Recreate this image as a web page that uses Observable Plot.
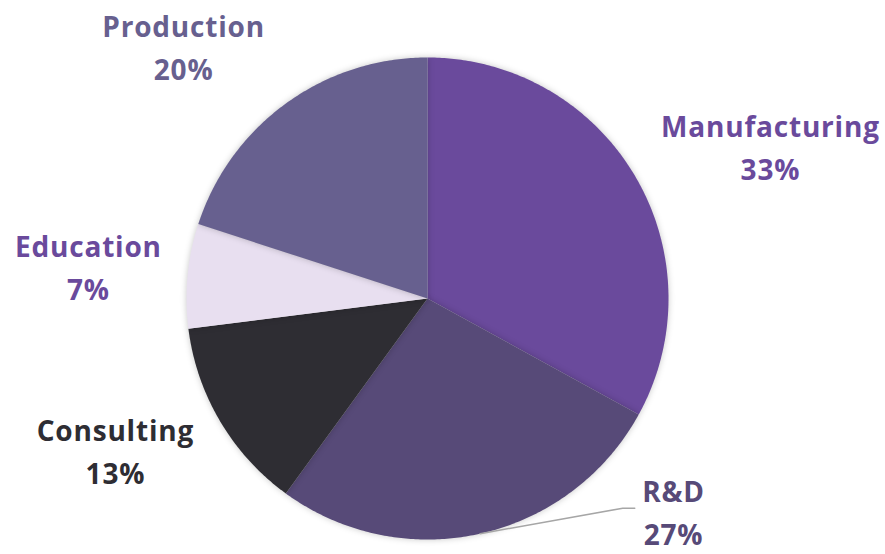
<!DOCTYPE html>
<html>
<head>
<meta charset="utf-8">
<script src="https://cdn.jsdelivr.net/npm/d3@7"></script>
<script src="https://cdn.jsdelivr.net/npm/@observablehq/plot@0.6"></script>
<style>
  html, body { margin: 0; padding: 0; background: #fff; }
  #chart svg { display: block; }
  .pie path { filter: drop-shadow(0px 0px 3px rgba(0,0,0,0.22)); }
  .lbl text { letter-spacing: 0.8px; }
</style>
</head>
<body>
<div id="chart"></div>
<script>
// ---- data ----
const categories = ["Manufacturing", "R&D", "Consulting", "Education", "Production"];
const shares = [33, 27, 13, 7, 20];
const colors = ["#6a4a9c", "#574a78", "#2e2d33", "#e8dff0", "#67608f"];
const labelColors = ["#6a4a9c", "#574a78", "#2e2d33", "#6a4a9c", "#67608f"];

// ---- layout (in pie-radius units, centre = 0,0; y up) ----
const W = 885, H = 554, R = 241, CX = 427, CY = 298;
const labelAt = [[1.423, 0.618], [1.021, -0.9], [-1.295, -0.645], [-1.407, 0.12], [-1.012, 1.031]];
const leaderEnd = [[0.81, -0.87], [0.86, -0.87]]; // R&D leader line bend / end

// ---- build slices ----
const total = d3.sum(shares);
const slices = [];
const polys = [];
let acc = 0;
categories.forEach((name, i) => {
  const a0 = acc / total * 2 * Math.PI;
  acc += shares[i];
  const a1 = acc / total * 2 * Math.PI;
  const steps = Math.max(8, Math.ceil((a1 - a0) / 0.01));
  polys.push({name, x: 0, y: 0});
  for (let k = 0; k <= steps; k++) {
    const a = a0 + (a1 - a0) * k / steps;
    polys.push({name, x: Math.sin(a), y: Math.cos(a)});
  }
  slices.push({name, share: shares[i], mid: (a0 + a1) / 2, i});
});

const labels = slices.map(s => ({
  name: s.name, pct: s.share + "%",
  x: labelAt[s.i][0], y: labelAt[s.i][1], color: labelColors[s.i]
}));

const rd = slices[1];
const leader = [
  {x: Math.sin(rd.mid), y: Math.cos(rd.mid)},
  {x: leaderEnd[0][0], y: leaderEnd[0][1]},
  {x: leaderEnd[1][0], y: leaderEnd[1][1]}
];

const font = {fontSize: 28, fontWeight: 700, textAnchor: "middle", className: "lbl"};
const plot = Plot.plot({
  width: W, height: H,
  margin: 0,
  x: {domain: [-CX / R, (W - CX) / R], axis: null},
  y: {domain: [-(H - CY) / R, CY / R], axis: null},
  color: {domain: categories, range: colors},
  style: {fontFamily: "'Open Sans', Lato, sans-serif", background: "#fff"},
  marks: [
    Plot.line(polys, {x: "x", y: "y", z: "name", fill: "name", stroke: "none", curve: "linear-closed", className: "pie"}),
    Plot.line(leader, {x: "x", y: "y", stroke: "#a6a6a6", strokeWidth: 1.5}),
    Plot.text(labels, {x: "x", y: "y", text: "name", fill: "color", dy: -22, ...font}),
    Plot.text(labels, {x: "x", y: "y", text: "pct", fill: "color", dy: 21, ...font})
  ]
});
document.getElementById("chart").appendChild(plot);
</script>
</body>
</html>
